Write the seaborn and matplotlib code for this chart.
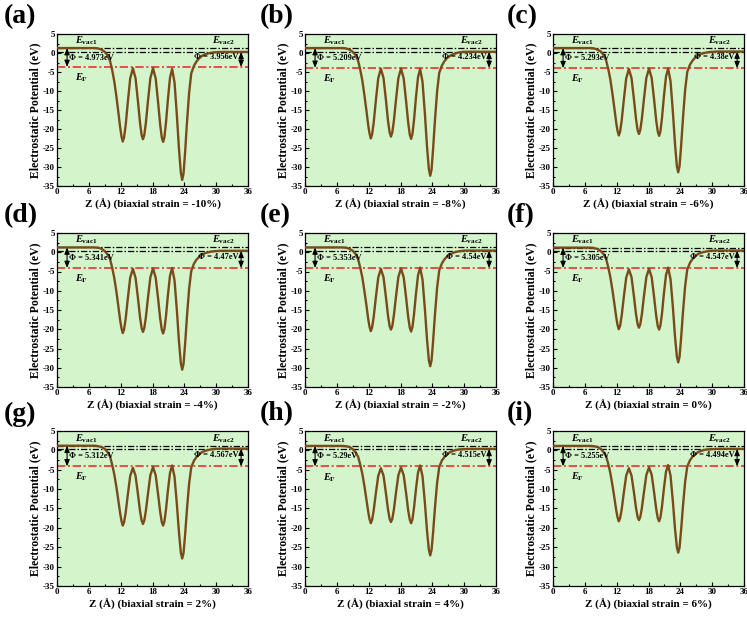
import matplotlib
matplotlib.use("Agg")
import matplotlib.pyplot as plt
from matplotlib.ticker import MultipleLocator
import seaborn as sns
import pandas as pd

# ---------------- data ----------------
panel_tags = ["(a)", "(b)", "(c)", "(d)", "(e)", "(f)", "(g)", "(h)", "(i)"]
strain_pct = [-10, -8, -6, -4, -2, 0, 2, 4, 6]

# vacuum level on the left side of the slab (eV)
evac1 = [1.3, 1.3, 1.3, 1.25, 1.25, 1.2, 1.2, 1.15, 1.15]
# work functions of the two surfaces (eV)
phi1 = [4.973, 5.209, 5.293, 5.341, 5.353, 5.305, 5.312, 5.29, 5.255]
phi2 = [3.956, 4.234, 4.38, 4.47, 4.54, 4.547, 4.567, 4.515, 4.494]

# planar-averaged electrostatic potential along z (Angstrom)
z_grid = [0, 4, 7, 7.5, 8, 8.5, 9, 9.5, 10, 10.4, 10.8, 11.2, 11.6, 11.9, 12.15, 12.4,
          12.65, 12.95, 13.35, 13.8, 14.3,
          14.8, 15.25, 15.65, 15.95, 16.2,
          16.45, 16.75, 17.15, 17.6, 18.1,
          18.6, 19.05, 19.45, 19.75, 20.0,
          20.25, 20.55, 20.9, 21.3, 21.7,
          22.15, 22.6, 23.0, 23.35, 23.6,
          23.85, 24.15, 24.5, 24.9, 25.3, 25.8, 26.3, 26.8, 27.4, 28.0, 28.8, 29.8, 31, 36]

v_a = [1.3, 1.3, 1.3, 1.25, 1.1, 0.8, 0.3, -0.6, -2.1, -4.5, -7.5, -11.5, -16.0, -19.5, -21.9, -23.3,
       -22.1, -18.9, -12.9, -6.7, -4.0,
       -6.6, -12.6, -18.4, -21.6, -22.7,
       -21.6, -18.4, -12.6, -6.6, -4.0,
       -6.7, -12.9, -18.9, -22.2, -23.4,
       -22.1, -18.2, -12.3, -6.5, -4.2,
       -7.7, -16.5, -25.5, -31.6, -33.4,
       -31.7, -26.0, -18.2, -10.5, -5.4, -3.4, -2.2, -1.4, -0.7, -0.3, 0.0, 0.2, 0.28, 0.28]
v_b = [1.3, 1.3, 1.3, 1.25, 1.1, 0.8, 0.3, -0.5, -2.0, -4.3, -7.2, -11.1, -15.4, -18.8, -21.1, -22.5,
       -21.4, -18.3, -12.6, -6.7, -4.1,
       -6.6, -12.3, -17.9, -20.9, -22.0,
       -20.9, -17.9, -12.3, -6.6, -4.1,
       -6.7, -12.6, -18.3, -21.5, -22.6,
       -21.3, -17.6, -11.9, -6.4, -4.2,
       -7.6, -16.0, -24.7, -30.6, -32.3,
       -30.7, -25.1, -17.6, -10.1, -5.2, -3.3, -2.1, -1.3, -0.7, -0.3, 0.1, 0.3, 0.33, 0.33]
v_c = [1.3, 1.3, 1.3, 1.25, 1.1, 0.8, 0.4, -0.5, -1.9, -4.1, -6.9, -10.7, -14.9, -18.2, -20.4, -21.7,
       -20.7, -17.7, -12.3, -6.7, -4.2,
       -6.6, -12.1, -17.4, -20.3, -21.3,
       -20.3, -17.3, -12.0, -6.5, -4.1,
       -6.6, -12.2, -17.7, -20.7, -21.8,
       -20.6, -17.0, -11.5, -6.2, -4.1,
       -7.4, -15.6, -24.0, -29.8, -31.4,
       -29.8, -24.4, -17.1, -9.8, -5.0, -3.1, -2.0, -1.2, -0.6, -0.2, 0.1, 0.3, 0.39, 0.39]
v_d = [1.25, 1.25, 1.25, 1.2, 1.1, 0.8, 0.3, -0.5, -1.8, -4.0, -6.7, -10.3, -14.4, -17.6, -19.7, -21.0,
       -20.0, -17.2, -12.0, -6.6, -4.3,
       -6.6, -11.8, -16.9, -19.7, -20.7,
       -19.7, -16.9, -11.8, -6.5, -4.2,
       -6.6, -12.0, -17.2, -20.1, -21.1,
       -19.9, -16.5, -11.2, -6.1, -4.1,
       -7.3, -15.2, -23.4, -28.9, -30.5,
       -29.0, -23.7, -16.6, -9.5, -4.9, -3.0, -1.9, -1.2, -0.5, -0.2, 0.1, 0.3, 0.38, 0.38]
v_e = [1.25, 1.25, 1.25, 1.2, 1.1, 0.8, 0.4, -0.4, -1.8, -3.9, -6.5, -10.1, -14.0, -17.2, -19.3, -20.5,
       -19.5, -16.8, -11.8, -6.6, -4.3,
       -6.5, -11.6, -16.5, -19.2, -20.1,
       -19.2, -16.4, -11.5, -6.4, -4.2,
       -6.5, -11.7, -16.8, -19.6, -20.6,
       -19.4, -16.1, -11.0, -6.0, -4.0,
       -7.1, -14.8, -22.7, -28.1, -29.6,
       -28.1, -23.0, -16.1, -9.2, -4.7, -2.9, -1.8, -1.1, -0.5, -0.1, 0.2, 0.4, 0.44, 0.44]
v_f = [1.2, 1.2, 1.2, 1.15, 1.0, 0.8, 0.3, -0.4, -1.7, -3.8, -6.4, -9.8, -13.7, -16.7, -18.8, -20.0,
       -19.1, -16.4, -11.6, -6.6, -4.4,
       -6.5, -11.4, -16.1, -18.7, -19.6,
       -18.7, -16.1, -11.3, -6.4, -4.3,
       -6.5, -11.6, -16.5, -19.2, -20.1,
       -19.0, -15.8, -10.8, -5.9, -4.0,
       -7.0, -14.3, -22.0, -27.1, -28.6,
       -27.2, -22.2, -15.5, -8.9, -4.5, -2.8, -1.7, -1.0, -0.4, -0.1, 0.2, 0.4, 0.44, 0.44]
v_g = [1.2, 1.2, 1.2, 1.15, 1.0, 0.8, 0.4, -0.4, -1.6, -3.7, -6.2, -9.5, -13.3, -16.2, -18.2, -19.4,
       -18.5, -16.0, -11.4, -6.6, -4.5,
       -6.5, -11.2, -15.7, -18.1, -19.0,
       -18.1, -15.6, -11.1, -6.4, -4.3,
       -6.4, -11.3, -15.9, -18.5, -19.4,
       -18.3, -15.2, -10.4, -5.8, -3.9,
       -6.8, -14.0, -21.4, -26.5, -27.9,
       -26.5, -21.7, -15.1, -8.6, -4.4, -2.7, -1.7, -1.0, -0.4, -0.1, 0.2, 0.4, 0.46, 0.46]
v_h = [1.15, 1.15, 1.15, 1.1, 1.0, 0.8, 0.3, -0.4, -1.6, -3.6, -6.0, -9.2, -12.9, -15.7, -17.7, -18.8,
       -17.9, -15.5, -11.1, -6.6, -4.6,
       -6.5, -11.0, -15.3, -17.7, -18.5,
       -17.7, -15.3, -10.9, -6.4, -4.4,
       -6.4, -11.0, -15.5, -17.9, -18.8,
       -17.8, -14.8, -10.2, -5.7, -3.9,
       -6.7, -13.6, -20.8, -25.7, -27.1,
       -25.7, -21.1, -14.7, -8.4, -4.3, -2.6, -1.7, -1.0, -0.4, -0.1, 0.2, 0.3, 0.38, 0.38]
v_i = [1.15, 1.15, 1.15, 1.1, 1.0, 0.8, 0.4, -0.4, -1.5, -3.4, -5.8, -9.0, -12.5, -15.3, -17.2, -18.3,
       -17.5, -15.2, -10.9, -6.5, -4.6,
       -6.5, -10.8, -14.9, -17.2, -18.0,
       -17.2, -14.9, -10.7, -6.3, -4.4,
       -6.3, -10.8, -15.1, -17.5, -18.3,
       -17.3, -14.4, -9.9, -5.5, -3.8,
       -6.5, -13.3, -20.3, -25.0, -26.4,
       -25.1, -20.5, -14.3, -8.2, -4.2, -2.6, -1.6, -1.0, -0.4, -0.1, 0.2, 0.3, 0.39, 0.39]

potentials = [v_a, v_b, v_c, v_d, v_e, v_f, v_g, v_h, v_i]

# ---------------- style ----------------
sns.set_theme(style="ticks")
plt.rcParams["font.family"] = ["Liberation Serif", "DejaVu Serif"]
plt.rcParams["font.weight"] = "bold"
plt.rcParams["axes.labelweight"] = "bold"
plt.rcParams["axes.unicode_minus"] = False
plt.rcParams["mathtext.fontset"] = "custom"
plt.rcParams["mathtext.rm"] = "Liberation Serif:bold"
plt.rcParams["mathtext.it"] = "Liberation Serif:italic:bold"
plt.rcParams["mathtext.bf"] = "Liberation Serif:bold"
for key in ["text.color", "axes.labelcolor", "xtick.color", "ytick.color", "axes.edgecolor"]:
    plt.rcParams[key] = "black"

W, H = 747, 618
fig = plt.figure(figsize=(W / 100, H / 100), dpi=100)

col_left = [57, 305, 553]
tag_left = [4, 260, 507]
row_top = [34, 233, 431]
row_h = [152, 154, 155]
ax_w = 191

bg = "#d4f5cc"
curve_col = "#7a4b1a"
red = "#e3352c"
dashdot = (0, (5, 1.6, 1.2, 1.6))

for k in range(9):
    r, c = divmod(k, 3)
    left, top, h = col_left[c], row_top[r], row_h[r]
    ax = fig.add_axes([left / W, 1 - (top + h) / H, ax_w / W, h / H])
    ax.set_facecolor(bg)

    e1 = evac1[k]
    ef = e1 - phi1[k]
    e2 = ef + phi2[k]

    ax.axhline(e1, color="black", lw=0.9, ls=dashdot, zorder=2)
    ax.axhline(e2, color="black", lw=0.9, ls=dashdot, zorder=2)
    ax.axhline(ef, color=red, lw=1.2, ls=dashdot, zorder=2)

    df = pd.DataFrame({"z": z_grid, "V": potentials[k]})
    sns.lineplot(data=df, x="z", y="V", ax=ax, color=curve_col, lw=1.7,
                 sort=False, estimator=None, zorder=3)

    arrow = dict(arrowstyle="<|-|>,head_length=0.32,head_width=0.13",
                 color="black", lw=0.8, shrinkA=0, shrinkB=0)
    ax.annotate("", xy=(1.9, ef), xytext=(1.9, e1), arrowprops=arrow, zorder=4)
    ax.annotate("", xy=(34.7, ef), xytext=(34.7, e2), arrowprops=arrow, zorder=4)

    ax.text(2.3, (e1 + ef) / 2, f"Φ = {phi1[k]}eV", fontsize=6, fontweight="bold",
            ha="left", va="center", zorder=5)
    ax.text(34.2, e2 - 0.35 * (e2 - ef), f"Φ = {phi2[k]}eV", fontsize=6,
            fontweight="bold", ha="right", va="center", zorder=5)
    ax.text(3.4, e1 + 0.3, r"$E_{\mathrm{vac1}}$", fontsize=7.5, ha="left", va="bottom")
    ax.text(29.2, e1 + 0.3, r"$E_{\mathrm{vac2}}$", fontsize=7.5, ha="left", va="bottom")
    ax.text(3.4, ef - 2.8, r"$E_{\mathrm{F}}$", fontsize=7.5, ha="left", va="center")

    ax.set_xlim(0, 36)
    ax.set_ylim(-35, 5)
    ax.set_xticks(range(0, 37, 6))
    ax.set_yticks(range(-35, 6, 5))
    ax.xaxis.set_minor_locator(MultipleLocator(3))
    ax.yaxis.set_minor_locator(MultipleLocator(2.5))
    ax.tick_params(which="both", direction="in", labelsize=6.5, pad=1.5, width=0.8)
    ax.tick_params(which="major", length=3)
    ax.tick_params(which="minor", length=1.6)
    for lab in ax.get_xticklabels() + ax.get_yticklabels():
        lab.set_fontweight("bold")
    for sp in ax.spines.values():
        sp.set_linewidth(0.9)
        sp.set_color("black")

    ax.set_xlabel(f"Z (Å) (biaxial strain = {strain_pct[k]}%)", fontsize=8,
                  fontweight="bold", labelpad=2)
    ax.set_ylabel("Electrostatic Potential (eV)", fontsize=8.5, fontweight="bold",
                  labelpad=1)

    fig.text(tag_left[c] / W, 1 - (top - 17) / H, panel_tags[k], fontsize=20,
             fontweight="bold", ha="left", va="center")

fig.savefig("out.png", dpi=100)
